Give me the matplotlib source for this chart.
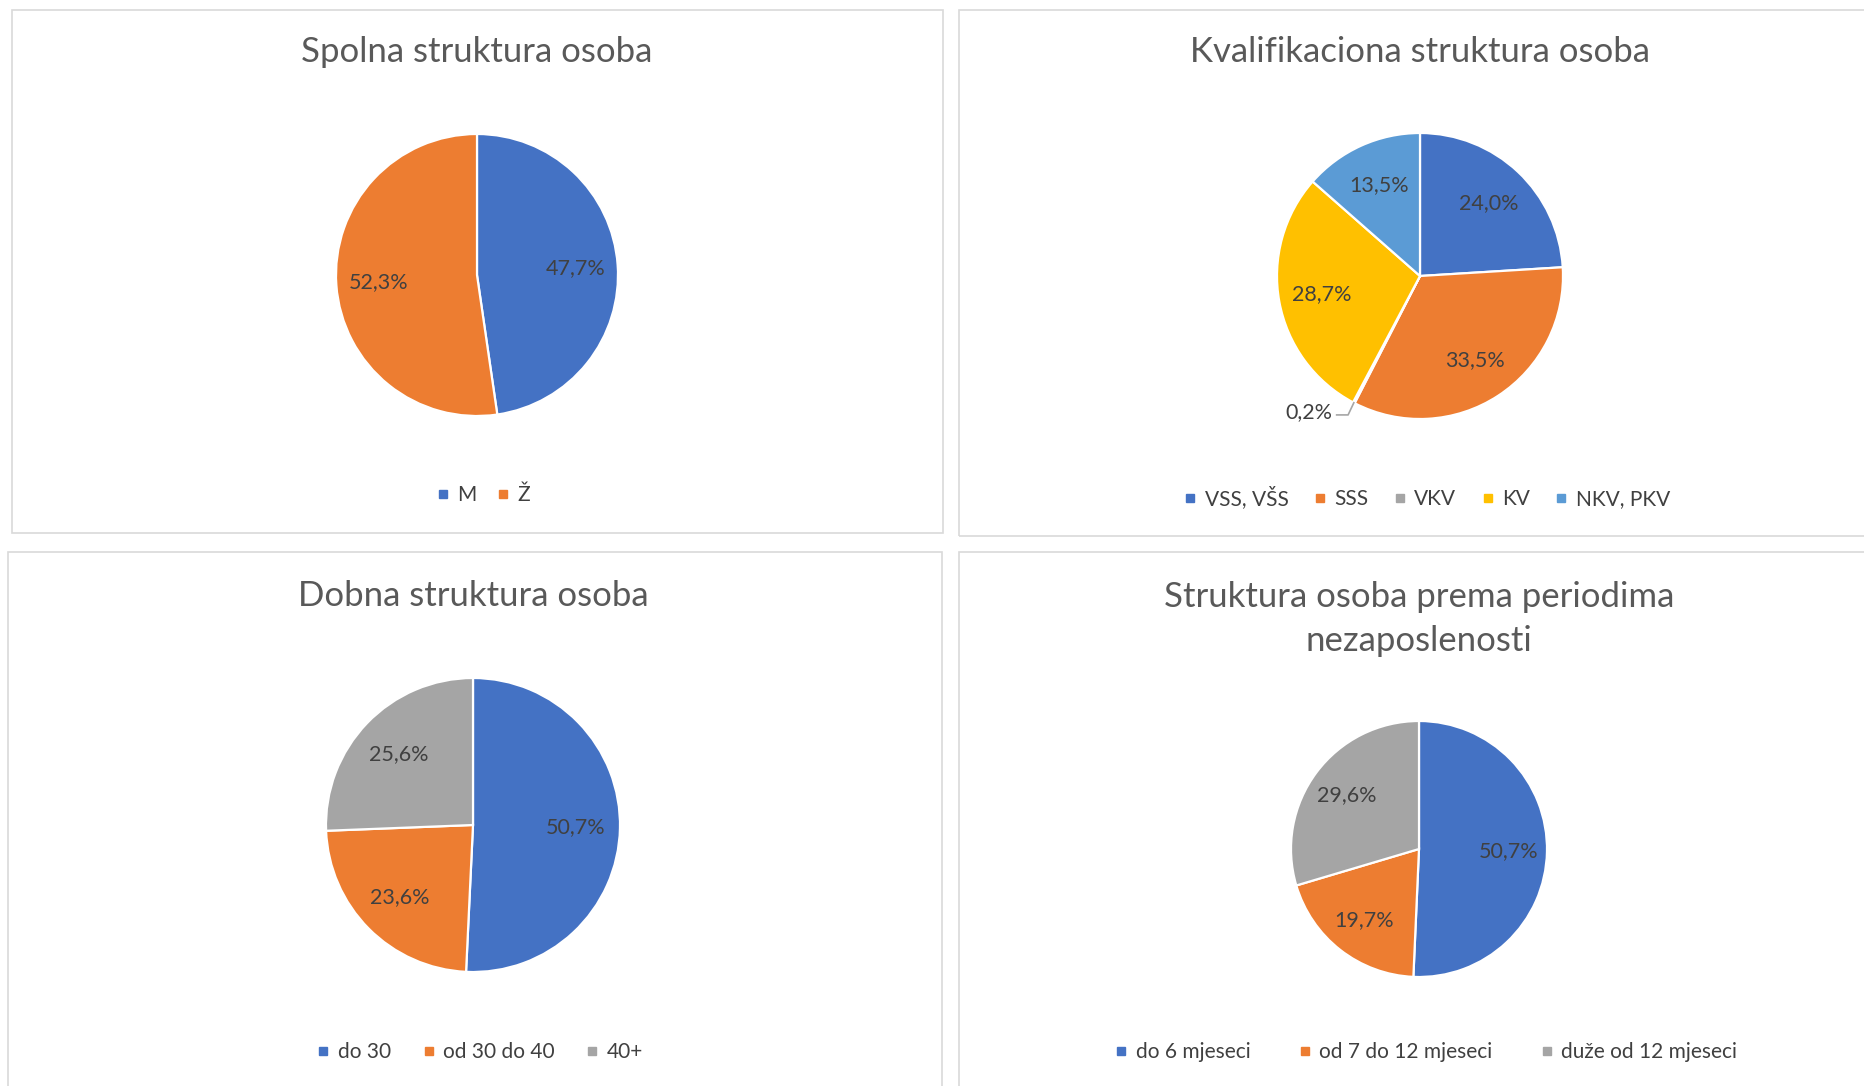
import numpy as np
import matplotlib.pyplot as plt
from matplotlib.lines import Line2D
from matplotlib.patches import Rectangle

plt.rcParams['font.family'] = ['Lato', 'DejaVu Sans']

# data
spol_labels = ['M', 'Ž']
spol_values = [47.7, 52.3]

kval_labels = ['VSS, VŠS', 'SSS', 'VKV', 'KV', 'NKV, PKV']
kval_values = [24.0, 33.5, 0.2, 28.7, 13.5]

dob_labels = ['do 30', 'od 30 do 40', '40+']
dob_values = [50.7, 23.6, 25.6]

period_labels = ['do 6 mjeseci', 'od 7 do 12 mjeseci', 'duže od 12 mjeseci']
period_values = [50.7, 19.7, 29.6]

titles = ['Spolna struktura osoba', 'Kvalifikaciona struktura osoba',
          'Dobna struktura osoba', 'Struktura osoba prema periodima\nnezaposlenosti']

BLUE, ORANGE, GRAY, YELLOW, LBLUE = '#4472C4', '#ED7D31', '#A5A5A5', '#FFC000', '#5B9BD5'
TITLE_C = '#595959'
TEXT_C = '#404040'

W, H = 1865, 1086
fig = plt.figure(figsize=(W / 100, H / 100), dpi=100)
fig.patch.set_facecolor('white')


def fx(x):
    return x / W


def fy(y):
    return 1 - y / H


def fmt(v):
    return f"{v:.1f}".replace('.', ',') + '%'


# panel frames
for x0, y0, x1, y1 in [(12, 10, 943, 533), (959, 10, 1875, 536),
                       (8, 552, 942, 1096), (959, 552, 1875, 1096)]:
    fig.patches.append(Rectangle((fx(x0), fy(y1)), fx(x1 - x0), (y1 - y0) / H,
                                 transform=fig.transFigure, fill=False,
                                 edgecolor='#D9D9D9', linewidth=1.2))


def draw_pie(cx, cy, r, values, colors, labels, title, ty, ly, lx, colsp,
             skip_small=False):
    ax = fig.add_axes([fx(cx - r), fy(cy + r), 2 * r / W, 2 * r / H])
    wedges, _ = ax.pie(values, colors=colors, startangle=90, counterclock=False,
                       radius=1, wedgeprops=dict(edgecolor='white', linewidth=1.6))
    ax.set_xlim(-1, 1)
    ax.set_ylim(-1, 1)
    ax.set_aspect('equal')
    ax.axis('off')
    for w, v in zip(wedges, values):
        mid = np.deg2rad((w.theta1 + w.theta2) / 2)
        if skip_small and v < 1:
            # small slice: label outside with a leader line
            ex, ey = np.cos(mid), np.sin(mid)
            ax.plot([ex, ex - 0.04, ex - 0.12], [ey, ey - 0.085, ey - 0.085],
                    color='#A6A6A6', lw=1.2, clip_on=False)
            ax.text(ex - 0.15, ey - 0.065, fmt(v), ha='right', va='center',
                    fontsize=15.5, color=TEXT_C)
            continue
        d = 0.7
        ax.text(d * np.cos(mid), d * np.sin(mid), fmt(v), ha='center', va='center',
                fontsize=15.5, color=TEXT_C)
    fig.text(fx(cx), fy(ty), title, ha='center', va='center', fontsize=25,
             color=TITLE_C, linespacing=1.45)
    handles = [Line2D([], [], marker='s', linestyle='', color=c, markersize=6)
               for c in colors]
    fig.legend(handles, labels, loc='center', bbox_to_anchor=(fx(lx), fy(ly)),
               ncol=len(labels), frameon=False, fontsize=15, handlelength=0.8,
               handletextpad=0.3, columnspacing=colsp, labelcolor=TEXT_C)


draw_pie(477, 275, 141, spol_values, [BLUE, ORANGE], spol_labels, titles[0],
         52, 495, 482, 0.85)
draw_pie(1420, 276, 143, kval_values, [BLUE, ORANGE, GRAY, YELLOW, LBLUE], kval_labels,
         titles[1], 52, 498, 1426, 1.1, skip_small=True)
draw_pie(473, 825, 147, dob_values, [BLUE, ORANGE, GRAY], dob_labels, titles[2],
         596, 1052, 479, 1.4)
draw_pie(1419, 849, 128, period_values, [BLUE, ORANGE, GRAY], period_labels, titles[3],
         619, 1052, 1425, 2.2)

fig.savefig('out.png', dpi=100)
